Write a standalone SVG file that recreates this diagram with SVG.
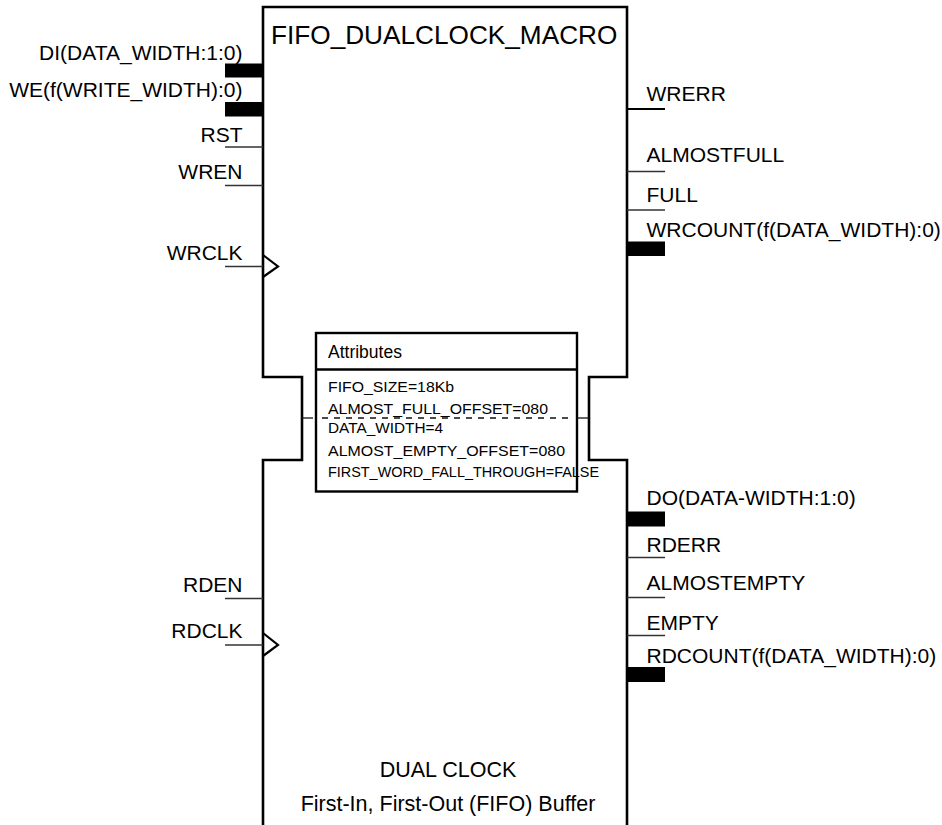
<svg xmlns="http://www.w3.org/2000/svg" width="942" height="825" viewBox="0 0 942 825">
<style>
text{font-family:"Liberation Sans",Arial,sans-serif;fill:#000}
.lbl{font-size:21px}
.l{text-anchor:end}
.attr{font-size:15.5px}
.pin{stroke:#333;stroke-width:1.4;fill:none}
.pinb{stroke:#000;stroke-width:2;fill:none}
.bus{fill:#000}
.body{stroke:#000;stroke-width:2.6;fill:none}
.clk{stroke:#000;stroke-width:2.2;fill:none}
.dash{stroke:#111;stroke-width:1.3;fill:none}
</style>
<rect width="942" height="825" fill="#fff"/>
<g id="macro">
<path class="body" d="M263,830 L263,460 L302,460 L302,377 L263,377 L263,7 L627,7 L627,377 L589,377 L589,460 L627,460 L627,830"/>
<text x="271" y="44" style="font-size:26.2px">FIFO_DUALCLOCK_MACRO</text>
<text x="448" y="777" text-anchor="middle" style="font-size:21.5px">DUAL CLOCK</text>
<text x="448" y="811" text-anchor="middle" style="font-size:21.5px">First-In, First-Out (FIFO) Buffer</text>
<polyline class="clk" points="263,255 278,266.5 263,277"/>
<polyline class="clk" points="263,633 278,645 263,656"/>
</g>
<g id="pins">
<g id="pin-di"><rect class="bus" x="225" y="63.5" width="38" height="14"/><text class="lbl l" x="242.5" y="59.5">DI(DATA_WIDTH:1:0)</text></g>
<g id="pin-we"><rect class="bus" x="225" y="102" width="38" height="14.5"/><text class="lbl l" x="242.5" y="96.5">WE(f(WRITE_WIDTH):0)</text></g>
<g id="pin-rst"><line class="pin" x1="225" y1="147" x2="263" y2="147"/><text class="lbl l" x="242.5" y="141.5">RST</text></g>
<g id="pin-wren"><line class="pin" x1="225" y1="185.5" x2="263" y2="185.5"/><text class="lbl l" x="242.5" y="178.5">WREN</text></g>
<g id="pin-wrclk"><line class="pin" x1="225" y1="266.5" x2="263" y2="266.5"/><text class="lbl l" x="242.5" y="259.5">WRCLK</text></g>
<g id="pin-rden"><line class="pin" x1="225" y1="598.5" x2="263" y2="598.5"/><text class="lbl l" x="242.5" y="591.5">RDEN</text></g>
<g id="pin-rdclk"><line class="pin" x1="225" y1="645" x2="263" y2="645"/><text class="lbl l" x="242.5" y="637.5">RDCLK</text></g>
<g id="pin-wrerr"><line class="pinb" x1="627" y1="109" x2="665" y2="109"/><text class="lbl" x="646.5" y="101">WRERR</text></g>
<g id="pin-almostfull"><line class="pin" x1="627" y1="171.5" x2="665" y2="171.5"/><text class="lbl" x="646.5" y="162">ALMOSTFULL</text></g>
<g id="pin-full"><line class="pin" x1="627" y1="210" x2="665" y2="210"/><text class="lbl" x="646.5" y="202">FULL</text></g>
<g id="pin-wrcount"><rect class="bus" x="627" y="241.5" width="38" height="14.5"/><text class="lbl" x="646.5" y="237">WRCOUNT(f(DATA_WIDTH):0)</text></g>
<g id="pin-do"><rect class="bus" x="627" y="511.5" width="38" height="15"/><text class="lbl" x="646.5" y="505">DO(DATA-WIDTH:1:0)</text></g>
<g id="pin-rderr"><line class="pin" x1="627" y1="557.5" x2="665" y2="557.5"/><text class="lbl" x="646.5" y="552">RDERR</text></g>
<g id="pin-almostempty"><line class="pin" x1="627" y1="597.5" x2="665" y2="597.5"/><text class="lbl" x="646.5" y="590">ALMOSTEMPTY</text></g>
<g id="pin-empty"><line class="pin" x1="627" y1="635.5" x2="665" y2="635.5"/><text class="lbl" x="646.5" y="630">EMPTY</text></g>
<g id="pin-rdcount"><rect class="bus" x="627" y="667" width="38" height="15"/><text class="lbl" x="646.5" y="663">RDCOUNT(f(DATA_WIDTH):0)</text></g>
</g>
<g id="attributes">
<rect x="316" y="333" width="261" height="158.5" fill="#fff" stroke="#000" stroke-width="2.4"/>
<line x1="316" y1="369.5" x2="577" y2="369.5" stroke="#000" stroke-width="2.4"/>
<text x="328" y="357.5" style="font-size:17.5px">Attributes</text>
<text class="attr" x="328" y="392" textLength="126" lengthAdjust="spacingAndGlyphs">FIFO_SIZE=18Kb</text>
<text class="attr" x="328" y="413.5" textLength="220" lengthAdjust="spacingAndGlyphs">ALMOST_FULL_OFFSET=080</text>
<text class="attr" x="328" y="433" textLength="115" lengthAdjust="spacingAndGlyphs">DATA_WIDTH=4</text>
<text class="attr" x="328" y="455.5" textLength="237" lengthAdjust="spacingAndGlyphs">ALMOST_EMPTY_OFFSET=080</text>
<text class="attr" x="328" y="476.5" textLength="271" lengthAdjust="spacingAndGlyphs">FIRST_WORD_FALL_THROUGH=FALSE</text>
</g>
<g id="connectors">
<line class="dash" x1="302" y1="418" x2="313" y2="418"/>
<line class="dash" x1="322" y1="418" x2="568" y2="418" stroke-dasharray="6 6"/>
<line class="dash" x1="577" y1="418" x2="589" y2="418"/>
</g>
</svg>
